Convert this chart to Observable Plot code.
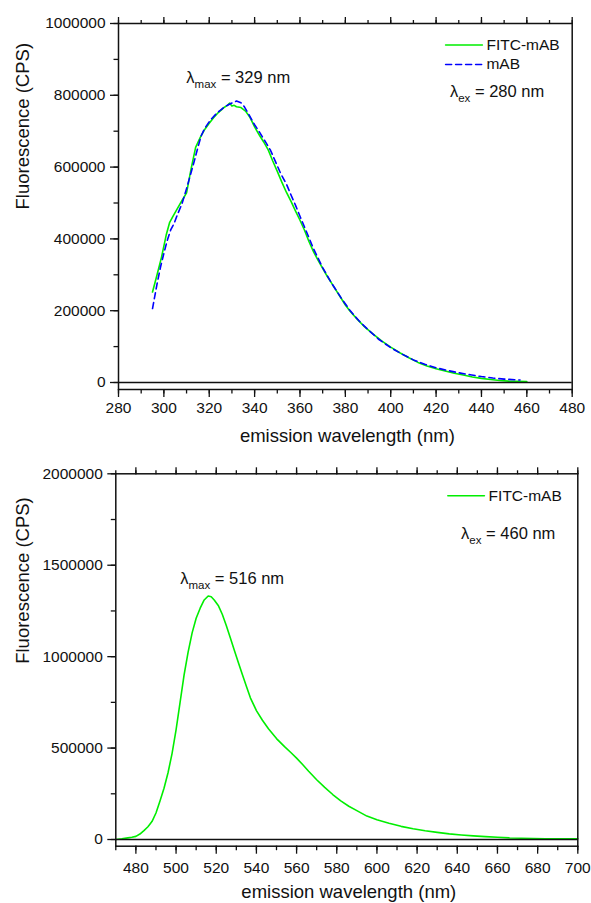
<!DOCTYPE html>
<html><head><meta charset="utf-8">
<script src="https://cdn.jsdelivr.net/npm/d3@7"></script>
<script src="https://cdn.jsdelivr.net/npm/@observablehq/plot@0.6"></script>
<style>
body{margin:0;background:#fff;width:591px;height:903px;overflow:hidden;font-family:"Liberation Sans",Arial,sans-serif;}
#top,#bottom{display:block;line-height:0;}
svg{display:block;}
</style></head><body>
<div id="top"></div><div id="bottom"></div>
<script>
// ---------- Top panel (λex = 280 nm) ----------
const topWavelengthFITC = [295,297,299,301,302.5,304,306,308,310,312,314,316,318,320,322,324,325.5,326.5,328,329,330,331,332,334,336,338,340,342,344,346,348,350,352,354,356,358,360,362,364,366,368,370,372,374,376,378,380,382,385,388,392,396,400,404,408,412,416,420,424,428,432,436,440,444,448,452,456,460];
const topFITC = [252000,300000,350000,410000,445000,463000,485000,507000,528000,595000,655000,682000,705000,722000,738000,752000,760000,766000,772000,778000,770000,772000,768000,766000,756000,738000,712000,690000,670000,648000,617000,588000,558000,530000,505000,478000,452000,424000,392000,364000,340000,318000,296000,276000,256000,236000,216000,199000,178000,158000,136000,116000,98500,83000,69000,56000,46000,38500,32000,26000,21000,15500,11500,8400,5500,3700,3000,2800];
const topWavelengthMAB = [295,297,298.5,300,301.5,303,304.5,306,308,310,312,313.5,315,316.5,318,320.5,323,325,327,329.5,332,334,335.5,337.5,340,342.5,345,347,349,351.5,354,356,358,360,363,366,370,374,378,382,386,390,395,400,405,410,415,420,425,430,435,440,445,450,455,457];
const topMAB = [206000,275000,321000,360000,396000,425000,443000,468000,498000,540000,585000,619000,655000,688000,708000,731000,748000,759000,769000,777000,784000,779000,768000,746000,718000,694000,668000,647000,618000,582000,553000,523000,494000,463000,418000,372000,320000,276000,237000,201000,172000,147000,119000,97000,79000,63000,51000,41000,33500,27000,21500,16500,12500,9500,7500,6800];
const topXTicks = [280,300,320,340,360,380,400,420,440,460,480];
const topYTicks = [0,200000,400000,600000,800000,1000000];
const topSeries = ["FITC-mAB","mAB"];
const topLegendX = [424.2,440.4];
const topLegendY = [940000,886000];
const topLegendTextX = 442.2;
const topNotes = ["λ|max| = 329 nm","λ|ex| = 280 nm"];
const topNotesX = [309.9,426.1];
const topNotesY = [848000,810000];

// ---------- Bottom panel (λex = 460 nm) ----------
const bottomWavelength = [470,473,476,478,480,482,484,486,488,490,492,494,496,498,500,502,504,506,508,510,512,514,516,517.5,519,521,523,525,527,529,531,533,535,537,540,543,546,550,554,557,560,563,566,570,574,578,582,586,590,595,600,606,612,618,624,630,636,642,648,654,660,666,672,678,684,690,700];
const bottomFITC = [0,4000,9000,12500,17000,30000,49000,70000,98000,145000,210000,280000,365000,470000,600000,750000,900000,1025000,1130000,1210000,1265000,1310000,1332000,1328000,1310000,1280000,1232000,1170000,1103000,1035000,968000,903000,838000,775000,705000,652000,606000,552000,508000,477000,445000,410000,373000,327000,285000,246000,211000,182000,158000,128000,108000,89000,72000,59000,48000,39000,31000,25000,20000,16000,12500,9000,7000,5000,3800,3500,3500];
const bottomXTicks = [480,500,520,540,560,580,600,620,640,660,680,700];
const bottomYTicks = [0,500000,1000000,1500000,2000000];
const bottomSeries = ["FITC-mAB"];
const bottomLegendX = [635.3,653.5];
const bottomLegendY = [1880000];
const bottomLegendTextX = 655.6;
const bottomNotes = ["λ|max| = 516 nm","λ|ex| = 460 nm"];
const bottomNotesX = [502.1,641.9];
const bottomNotesY = [1424000,1670000];

const GREEN = "#00ee00", BLUE = "#0000ff";
const xTitle = "emission wavelength (nm)";
const yTitle = "Fluorescence (CPS)";

function subscripts(svg) {
  d3.select(svg).selectAll("text").each(function () {
    const t = this.textContent;
    if (!t.includes("|")) return;
    const [a, sub, b] = t.split("|");
    const sel = d3.select(this);
    sel.text(null);
    sel.append("tspan").text(a);
    sel.append("tspan").attr("font-size", 11.5).attr("dy", 5).text(sub);
    sel.append("tspan").attr("dy", -5).text(b);
  });
}

function panel(o) {
  const curves = o.series.map((s, k) => ({
    name: s,
    pts: o.waves[k].map((w, i) => ({w, v: o.vals[k][i]}))
  }));
  const styles = [{stroke: GREEN, dash: null}, {stroke: BLUE, dash: "6,4"}];
  const legendRows = o.series.map((s, k) => ({s, k, y: o.legendY[k]}));
  const minorX = d3.range(o.xDomain[0], o.xDomain[1] + 0.001, o.xMinor);
  const minorY = d3.range(0, o.yDomain[1] + 1, o.yMinor);
  const notes = o.notes.map((t, i) => ({t, x: o.notesX[i], y: o.notesY[i]}));
  const marks = [];
  curves.forEach((c, k) => {
    marks.push(Plot.line(c.pts, {x: "w", y: "v", stroke: styles[k].stroke, strokeWidth: 1.6, strokeDasharray: styles[k].dash}));
  });
  legendRows.forEach(r => {
    marks.push(Plot.line(o.legendX.map(x => ({x, y: r.y})), {x: "x", y: "y", stroke: styles[r.k].stroke, strokeWidth: 1.6, strokeDasharray: styles[r.k].dash}));
  });
  marks.push(
    Plot.text(legendRows, {x: () => o.legendTextX, y: "y", text: "s", textAnchor: "start", fontSize: 15.5, fill: "#111"}),
    Plot.text(notes, {x: "x", y: "y", text: "t", textAnchor: "start", fontSize: 16.5, fill: "#111"}),
    Plot.ruleY([0], {stroke: "#111", strokeWidth: 1.5}),
    Plot.frame({stroke: "#111", strokeWidth: 1.5}),
    Plot.axisX({anchor: "bottom", ticks: o.xTicks, tickSize: 8, tickPadding: o.xPad, fontSize: 15.5, label: null, stroke: "#111", strokeWidth: 1.3, fill: "#111"}),
    Plot.axisX({anchor: "bottom", ticks: minorX, tickSize: 4.5, tickFormat: () => "", label: null, stroke: "#111", strokeWidth: 1.3}),
    Plot.axisX({anchor: "top", ticks: o.xTicks, tickSize: 7, tickFormat: () => "", label: null, stroke: "#111", strokeWidth: 1.3}),
    Plot.axisX({anchor: "top", ticks: minorX, tickSize: 4, tickFormat: () => "", label: null, stroke: "#111", strokeWidth: 1.3}),
    Plot.axisY({anchor: "left", ticks: o.yTicks, tickSize: 8, tickPadding: 5, fontSize: 15.5, tickFormat: d => String(d), label: null, stroke: "#111", strokeWidth: 1.3, fill: "#111"}),
    Plot.axisY({anchor: "left", ticks: minorY, tickSize: 4.5, tickFormat: () => "", label: null, stroke: "#111", strokeWidth: 1.3}),
    Plot.text([xTitle], {frameAnchor: "bottom", text: d => d, dy: o.xTitleDy, dx: 2, fontSize: 18.5, fill: "#111", lineAnchor: "middle"}),
    Plot.text([yTitle], {frameAnchor: "left", text: d => d, dx: o.yTitleDx, dy: o.yTitleDy, rotate: -90, fontSize: 18.5, fill: "#111", lineAnchor: "middle"})
  );
  const svg = Plot.plot({
    width: 591, height: o.height,
    marginLeft: o.ml, marginRight: o.mr, marginTop: o.mt, marginBottom: o.mb,
    style: {fontFamily: "'Liberation Sans', Arial, sans-serif", fontSize: "15.5px", background: "#fff", color: "#111", overflow: "visible"},
    x: {domain: o.xDomain},
    y: {domain: o.yDomain},
    marks
  });
  subscripts(svg);
  return svg;
}

document.getElementById("top").append(panel({
  height: 450, ml: 118, mr: 19.3, mt: 23, mb: 61,
  xDomain: [280, 480], yDomain: [-19500, 1000000], xMinor: 10, yMinor: 100000,
  xTicks: topXTicks, yTicks: topYTicks, xPad: 4.5,
  series: topSeries, waves: [topWavelengthFITC, topWavelengthMAB], vals: [topFITC, topMAB],
  legendX: topLegendX, legendY: topLegendY, legendTextX: topLegendTextX,
  notes: topNotes, notesX: topNotesX, notesY: topNotesY,
  xTitleDy: 47, yTitleDx: -95, yTitleDy: 3
}));
document.getElementById("bottom").append(panel({
  height: 453, ml: 115.3, mr: 13.7, mt: 23.3, mb: 57.3,
  xDomain: [470, 700], yDomain: [-36600, 2000000], xMinor: 10, yMinor: 250000,
  xTicks: bottomXTicks, yTicks: bottomYTicks, xPad: 8,
  series: bottomSeries, waves: [bottomWavelength], vals: [bottomFITC],
  legendX: bottomLegendX, legendY: bottomLegendY, legendTextX: bottomLegendTextX,
  notes: bottomNotes, notesX: bottomNotesX, notesY: bottomNotesY,
  xTitleDy: 46, yTitleDx: -93, yTitleDy: 3.8
}));
</script>
</body></html>
